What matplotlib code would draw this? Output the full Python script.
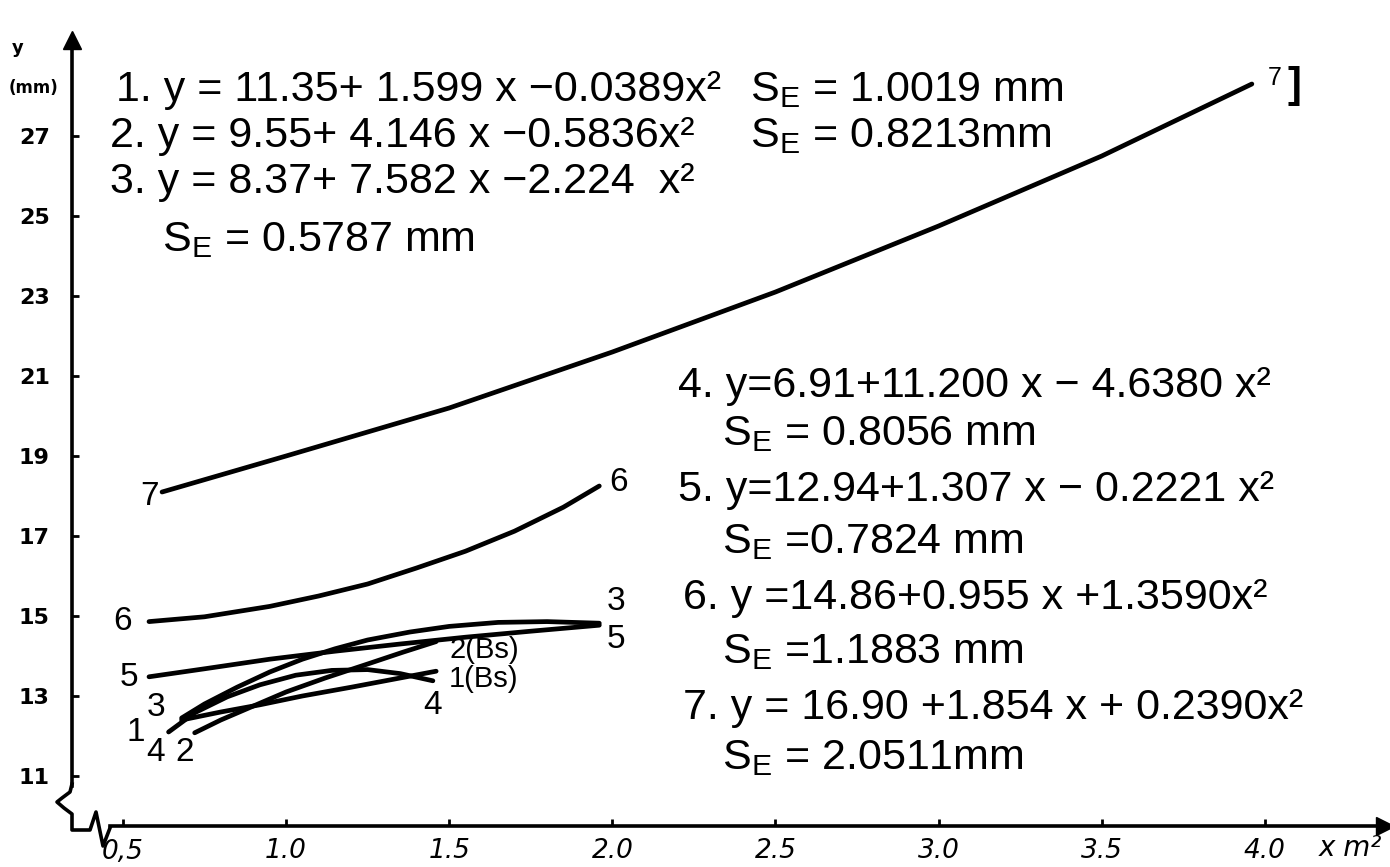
import matplotlib
matplotlib.use("Agg")
import matplotlib.pyplot as plt
from matplotlib.lines import Line2D

# =========================================================
# DATA
# =========================================================

x_ticks = [0.5, 1.0, 1.5, 2.0, 2.5, 3.0, 3.5, 4.0]
x_tick_labels = ["0,5", "1.0", "1.5", "2.0", "2.5", "3.0", "3.5", "4.0"]
y_ticks = [11, 13, 15, 17, 19, 21, 23, 25, 27]

x1 = [0.68, 0.80, 0.92, 1.05, 1.20, 1.33, 1.46]
y1 = [12.40, 12.60, 12.78, 13.00, 13.22, 13.42, 13.62]

x2 = [0.72, 0.80, 0.90, 1.00, 1.12, 1.25, 1.36, 1.46]
y2 = [12.08, 12.40, 12.75, 13.10, 13.45, 13.80, 14.10, 14.36]

x3 = [0.68, 0.75, 0.85, 0.95, 1.05, 1.15, 1.25, 1.38, 1.50, 1.65, 1.80, 1.96]
y3 = [12.45, 12.80, 13.22, 13.60, 13.92, 14.18, 14.40, 14.60, 14.74, 14.84, 14.86, 14.82]

x4 = [0.64, 0.72, 0.82, 0.92, 1.03, 1.14, 1.25, 1.35, 1.45]
y4 = [12.10, 12.58, 12.98, 13.28, 13.52, 13.64, 13.66, 13.56, 13.38]

x5 = [0.58, 0.75, 0.95, 1.15, 1.35, 1.55, 1.75, 1.96]
y5 = [13.48, 13.68, 13.92, 14.12, 14.30, 14.47, 14.62, 14.77]

x6 = [0.58, 0.75, 0.95, 1.10, 1.25, 1.40, 1.55, 1.70, 1.85, 1.96]
y6 = [14.86, 14.98, 15.24, 15.50, 15.80, 16.20, 16.62, 17.12, 17.72, 18.25]

x7 = [0.62, 1.00, 1.50, 2.00, 2.50, 3.00, 3.50, 3.96]
y7 = [18.10, 19.00, 20.20, 21.60, 23.10, 24.75, 26.50, 28.30]

curves = [(x1, y1), (x2, y2), (x3, y3), (x4, y4), (x5, y5), (x6, y6), (x7, y7)]

# curve labels: text, x, y
curve_labels = [
    ("7", 0.58, 18.0), ("6", 0.50, 14.85), ("5", 0.52, 13.45),
    ("1", 0.54, 12.08), ("3", 0.60, 12.72), ("4", 0.60, 11.58), ("2", 0.69, 11.58),
    ("6", 2.02, 18.35), ("3", 2.01, 15.35), ("5", 2.01, 14.40),
    ("4", 1.45, 12.75),
]
bs_labels = [("2(Bs)", 1.50, 14.16), ("1(Bs)", 1.50, 13.42)]

# equation text: text, px x, px y
eq_left = [
    ("1. y = 11.35+ 1.599 x \u22120.0389x\u00b2", 116, 90),
    ("2. y = 9.55+ 4.146 x \u22120.5836x\u00b2", 110, 136),
    ("3. y = 8.37+ 7.582 x \u22122.224  x\u00b2", 110, 182),
    ("S$_\\mathrm{E}$ = 0.5787 mm", 162, 240),
    ("S$_\\mathrm{E}$ = 1.0019 mm", 750, 90),
    ("S$_\\mathrm{E}$ = 0.8213mm", 750, 136),
]
eq_right = [
    ("4. y=6.91+11.200 x \u2212 4.6380 x\u00b2", 678, 386),
    ("S$_\\mathrm{E}$ = 0.8056 mm", 722, 434),
    ("5. y=12.94+1.307 x \u2212 0.2221 x\u00b2", 678, 490),
    ("S$_\\mathrm{E}$ =0.7824 mm", 722, 542),
    ("6. y =14.86+0.955 x +1.3590x\u00b2", 683, 598),
    ("S$_\\mathrm{E}$ =1.1883 mm", 722, 652),
    ("7. y = 16.90 +1.854 x + 0.2390x\u00b2", 683, 708),
    ("S$_\\mathrm{E}$ = 2.0511mm", 722, 758),
]

# =========================================================
# STYLE
# =========================================================

FONT = ["Liberation Sans", "DejaVu Sans"]
plt.rcParams["font.family"] = FONT
plt.rcParams["mathtext.fontset"] = "custom"
plt.rcParams["mathtext.rm"] = "Liberation Sans"
plt.rcParams["mathtext.it"] = "Liberation Sans"

W, H = 1390, 867


def fx(px):
    return px / W


def fy(py):
    return 1 - py / H


fig = plt.figure(figsize=(W / 100, H / 100), dpi=100)
fig.patch.set_facecolor("white")

# axes: y-axis line at px 72, x-axis at px 826, arrows at px 40 / 1385
ax = fig.add_axes([fx(72), fy(826), fx(1385) - fx(72), fy(40) - fy(826)])
ax.set_xlim(0.344, 4.368)
ax.set_ylim(9.75, 29.4)

for s in ["top", "right"]:
    ax.spines[s].set_visible(False)
ax.spines["left"].set_linewidth(2.6)
ax.spines["bottom"].set_linewidth(2.6)
ax.spines["left"].set_bounds(10.75, 29.4)
ax.spines["bottom"].set_bounds(0.46, 4.368)

ax.set_xticks(x_ticks)
ax.set_xticklabels(x_tick_labels, fontsize=19, style="italic", family="DejaVu Sans")
ax.set_yticks(y_ticks)
ax.set_yticklabels([str(v) for v in y_ticks], fontsize=16, fontweight="bold",
                   family="DejaVu Sans")
ax.tick_params(axis="x", direction="in", length=5, width=2, pad=9)
ax.tick_params(axis="y", direction="in", length=5, width=2, pad=16)

# arrow heads
ax.plot([0], [1], marker="^", color="black", markersize=13,
        transform=ax.transAxes, clip_on=False)
ax.plot([1], [0], marker=">", color="black", markersize=13,
        transform=ax.transAxes, clip_on=False)

# axis break squiggle
bx = [72, 70, 62, 57, 64, 72, 72, 72, 90, 96, 103, 110]
by = [784, 792, 798, 802, 808, 814, 822, 830, 830, 812, 846, 828]
fig.add_artist(Line2D([fx(v) for v in bx], [fy(v) for v in by],
                      color="black", lw=2.6, solid_joinstyle="round"))

# curves
for cx, cy in curves:
    ax.plot(cx, cy, color="black", lw=3.4, solid_capstyle="round")

for t, lx, ly in curve_labels:
    ax.text(lx, ly, t, fontsize=24, ha="center", va="center")
for t, lx, ly in bs_labels:
    ax.text(lx, ly, t, fontsize=21, ha="left", va="center")

# end label of curve 7 with its bracket
ax.text(4.03, 28.45, "7", fontsize=18, ha="center", va="center")
ax.text(4.09, 28.25, "]", fontsize=30, fontweight="bold", ha="center", va="center")

# equations
for t, px, py in eq_left + eq_right:
    fig.text(fx(px), fy(py), t, fontsize=31, ha="left", va="center")

# axis captions
fig.text(fx(18), fy(48), "y", fontsize=13, fontweight="bold", ha="center",
         va="center", family="DejaVu Sans")
fig.text(fx(34), fy(88), "(mm)", fontsize=12, fontweight="bold", ha="center",
         va="center", family="DejaVu Sans")
fig.text(fx(1350), fy(848), "x m\u00b2", fontsize=20, style="italic",
         ha="center", va="center", family="DejaVu Sans")

fig.savefig("out.png", dpi=100)
